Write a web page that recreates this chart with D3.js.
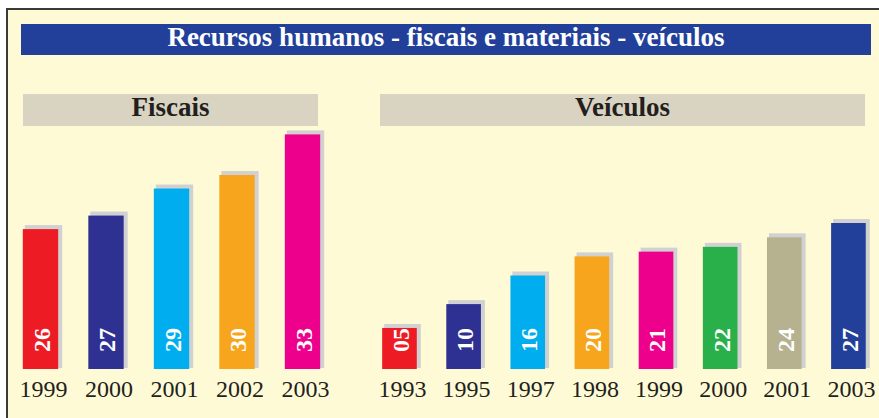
<!DOCTYPE html>
<html>
<head>
<meta charset="utf-8">
<script src="https://cdn.jsdelivr.net/npm/d3@7"></script>
<style>
  body { margin: 0; background: #fff; }
  text { font-family: 'Liberation Serif', 'Times New Roman', serif; }
</style>
</head>
<body>
<div id="chart"></div>
<script>
// data
const title = 'Recursos humanos - fiscais e materiais - veículos'

const fiscaisYears = ['1999', '2000', '2001', '2002', '2003']
const fiscaisValues = [26, 27, 29, 30, 33]
const fiscaisColors = ['#ed1c24', '#2e3192', '#00aeef', '#f7a51d', '#ec008c']

const veiculosYears = ['1993', '1995', '1997', '1998', '1999', '2000', '2001', '2003']
const veiculosValues = [5, 10, 16, 20, 21, 22, 24, 27]
const veiculosColors = ['#ed1c24', '#2e3192', '#00aeef', '#f7a51d', '#ec008c', '#29b04a', '#b6b18f', '#22409a']

function draw() {
    const dimensions = { width: 879, height: 418 }
    const baseline = 369

    const svg = d3.select('#chart')
        .append('svg')
        .attr('width', dimensions.width)
        .attr('height', dimensions.height)

    // frame
    svg.append('rect')
        .attr('x', 7).attr('y', 9)
        .attr('width', 900).attr('height', 450)
        .attr('fill', '#fefad6')
        .attr('stroke', '#3a3a3a')
        .attr('stroke-width', 2)

    // title bar
    svg.append('rect')
        .attr('x', 21).attr('y', 24)
        .attr('width', 850).attr('height', 31)
        .attr('fill', '#22409a')
    svg.append('text')
        .attr('x', 446).attr('y', 46)
        .attr('text-anchor', 'middle')
        .attr('fill', '#fff')
        .attr('font-weight', 'bold')
        .attr('font-size', 27)
        .text(title)

    // the original bars are not drawn from zero, so each panel gets its own baseline value
    const panels = [
        {
            name: 'Fiscais', years: fiscaisYears, values: fiscaisValues, colors: fiscaisColors,
            header: [23, 295], xRange: [7.75, 335.25], yDomain: [15.66, 33], yTop: 134.4
        },
        {
            name: 'Veículos', years: veiculosYears, values: veiculosValues, colors: veiculosColors,
            header: [380, 485], xRange: [367.4, 880.5], yDomain: [-3.6, 27], yTop: 223
        }
    ]

    panels.forEach(p => {
        const g = svg.append('g')

        g.append('rect')
            .attr('x', p.header[0]).attr('y', 94)
            .attr('width', p.header[1]).attr('height', 32)
            .attr('fill', '#d9d3c1')
        g.append('text')
            .attr('x', p.header[0] + p.header[1] / 2).attr('y', 116)
            .attr('text-anchor', 'middle')
            .attr('fill', '#231f20')
            .attr('font-weight', 'bold')
            .attr('font-size', 27)
            .text(p.name)

        const data = p.years.map((y, i) => ({ year: y, value: p.values[i], color: p.colors[i] }))

        const xScale = d3.scaleBand()
            .domain(p.years)
            .range(p.xRange)
            .paddingInner(0.46)
            .paddingOuter(0.23)

        const yScale = d3.scaleLinear()
            .domain(p.yDomain)
            .range([baseline, p.yTop])

        // shadows
        g.selectAll('rect.shadow')
            .data(data)
            .join('rect')
            .classed('shadow', true)
            .attr('x', d => xScale(d.year) + 2)
            .attr('y', d => yScale(d.value) - 4)
            .attr('width', xScale.bandwidth() + 2)
            .attr('height', d => baseline - yScale(d.value) + 3)
            .attr('fill', '#d1d1d1')

        g.selectAll('rect.bar')
            .data(data)
            .join('rect')
            .classed('bar', true)
            .attr('x', d => xScale(d.year))
            .attr('y', d => yScale(d.value))
            .attr('width', xScale.bandwidth())
            .attr('height', d => baseline - yScale(d.value))
            .attr('fill', d => d.color)

        g.selectAll('text.val')
            .data(data)
            .join('text')
            .classed('val', true)
            .attr('transform', d => `translate(${xScale(d.year) + xScale.bandwidth() / 2 + 1}, ${baseline - 29}) rotate(-90)`)
            .attr('dy', '0.35em')
            .attr('text-anchor', 'middle')
            .attr('fill', '#fff')
            .attr('font-weight', 'bold')
            .attr('font-size', 24)
            .text(d => d3.format('02d')(d.value))

        const xAxis = d3.axisBottom(xScale)
            .tickSize(0)
            .tickPadding(11)

        const axisGroup = g.append('g')
            .attr('transform', `translate(3, ${baseline})`)
            .call(xAxis)
        axisGroup.select('.domain').remove()
        axisGroup.selectAll('text')
            .attr('fill', '#231f20')
            .attr('font-size', 24)
            .style('font-family', "'Liberation Serif', serif")
    })
}

draw()
</script>
</body>
</html>
